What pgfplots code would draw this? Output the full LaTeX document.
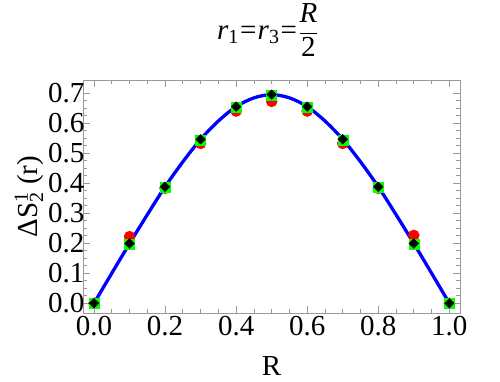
\documentclass[border=0pt]{standalone}
\usepackage{pgfplots}
\pgfplotsset{compat=1.18}
\usepackage{fontspec}
\setmainfont{Liberation Serif}
\newcommand\sm[1]{\mbox{\fontsize{20}{22}\selectfont #1}}
\begin{document}
\begin{tikzpicture}[font=\fontsize{29}{34}\selectfont]
\begin{axis}[
  scale only axis,
  width=377pt, height=233pt,
  xmin=-0.031, xmax=1.03,
  ymin=-0.033, ymax=0.743,
  xtick={0,0.2,0.4,0.6,0.8,1.0},
  ytick={0,0.1,0.2,0.3,0.4,0.5,0.6,0.7},
  minor x tick num=3,
  minor y tick num=3,
  tick align=inside,
  major tick length=7pt,
  minor tick length=4pt,
  axis line style={draw=gray!80, line width=0.8pt},
  every tick/.style={gray!80, line width=0.7pt},
  /pgf/number format/assume math mode=true,
  /pgf/number format/fixed,
  /pgf/number format/fixed zerofill,
  /pgf/number format/precision=1,
  xticklabel={\pgfmathprintnumber{\tick}},
  yticklabel={\pgfmathprintnumber{\tick}},
  yticklabel style={xshift=5pt},
  xlabel={R},
  xlabel style={at={(axis description cs:0.5,0)}, anchor=base, yshift=-62pt},
  ylabel={ΔS$^{\sm{1}}_{\sm{2}}$ (r)},
  ylabel style={at={(axis description cs:-0.122,0.5)}, anchor=base},
  title={\textit{r}$_{\sm{1}}$\kern1.2pt=\kern1.2pt\textit{r}$_{\sm{3}}$\kern1.2pt=\kern1.2pt$\displaystyle\frac{\mbox{\textit{R}}}{\mbox{2}}$},
  title style={at={(axis description cs:0.49,1)}, anchor=base, yshift=35pt},
  clip=false,
]
\addplot[only marks, mark=*, mark size=5.5pt, color=red, mark options={fill=red, draw=red}] coordinates {
(0,0) (0.1,0.222) (0.2,0.383) (0.3,0.532) (0.4,0.640) (0.5,0.672) (0.6,0.640) (0.7,0.532) (0.8,0.383) (0.9,0.226) (1.0,0)
};
\addplot[only marks, mark=square*, mark size=5pt, color=green, mark options={fill=green, draw=green}] coordinates {
(0,0) (0.1,0.197) (0.2,0.386) (0.3,0.544) (0.4,0.653) (0.5,0.693) (0.6,0.653) (0.7,0.544) (0.8,0.386) (0.9,0.197) (1.0,0)
};
\addplot[only marks, mark=square*, mark size=3.4pt, color=black, mark options={fill=black, draw=black, rotate=45}] coordinates {
(0,0) (0.1,0.199) (0.2,0.388) (0.3,0.546) (0.4,0.655) (0.5,0.695) (0.6,0.655) (0.7,0.546) (0.8,0.388) (0.9,0.199) (1.0,0)
};
\addplot[smooth, color=blue, line width=3.3pt] coordinates {
(0,0) (0.05,0.100) (0.1,0.199) (0.15,0.295) (0.2,0.388) (0.25,0.471) (0.3,0.546) (0.35,0.607) (0.4,0.655) (0.45,0.684) (0.5,0.695)
(0.55,0.684) (0.6,0.655) (0.65,0.607) (0.7,0.546) (0.75,0.471) (0.8,0.388) (0.85,0.295) (0.9,0.199) (0.95,0.100) (1.0,0)
};
\end{axis}
\path ([xshift=-83pt,yshift=-68pt]current axis.south west) rectangle ([xshift=417pt,yshift=313pt]current axis.south west);
\end{tikzpicture}
\end{document}
